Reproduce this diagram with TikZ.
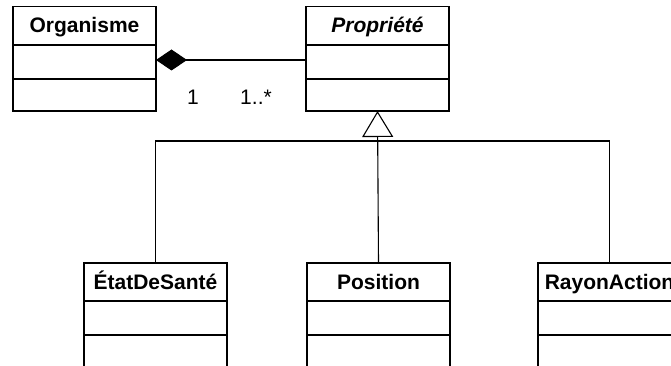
\documentclass[tikz,border=0pt]{standalone}
\usepackage{fontspec}
\setmainfont{Liberation Sans}
\usetikzlibrary{arrows.meta}

\tikzset{
  classhead/.style={draw, line width=1.5pt, minimum width=143pt, minimum height=38pt,
    inner sep=0pt, outer sep=0pt, text height=14pt, text depth=0pt,
    font=\fontsize{21}{25}\selectfont\bfseries},
  classpart/.style={draw, line width=1.5pt, minimum width=143pt,
    inner sep=0pt, outer sep=0pt},
  link/.style={line width=1.1pt},
  composition/.style={link, {Diamond[length=31pt, width=21pt]}-},
  generalization/.style={link, -{Triangle[open, length=26pt, width=31pt, fill=white]}},
  mult/.style={font=\fontsize{21}{25}\selectfont, inner sep=0pt}
}

\begin{document}
\begin{tikzpicture}[x=1pt, y=-1pt]
  \useasboundingbox (0,0) rectangle (671,366);
  \clip (0,0) rectangle (671,366);

  % Organisme
  \node[classhead] (org) at (84.5,25.5) {Organisme};
  \node[classpart, minimum height=34pt] (orgA) at (84.5,62) {};
  \node[classpart, minimum height=32pt] (orgB) at (84.5,95) {};

  % Propriete (abstract)
  \node[classhead, font=\fontsize{21}{25}\selectfont\bfseries\itshape] (prop) at (377.5,25.5) {Propriété};
  \node[classpart, minimum height=34pt] (propA) at (377.5,62) {};
  \node[classpart, minimum height=32pt] (propB) at (377.5,95) {};

  % Subclasses
  \node[classhead] (etat) at (155.5,282) {ÉtatDeSanté};
  \node[classpart, minimum height=34pt] (etatA) at (155.5,318) {};
  \node[classpart, minimum height=40pt] (etatB) at (155.5,355) {};

  \node[classhead] (pos) at (378.5,282) {Position};
  \node[classpart, minimum height=34pt] (posA) at (378.5,318) {};
  \node[classpart, minimum height=40pt] (posB) at (378.5,355) {};

  \node[classhead] (ray) at (609.5,282) {RayonAction};
  \node[classpart, minimum height=34pt] (rayA) at (609.5,318) {};
  \node[classpart, minimum height=40pt] (rayB) at (609.5,355) {};

  % Composition Organisme -- Propriete
  \draw[composition] ([yshift=2pt]orgA.east) -- ([yshift=2pt]propA.west);
  \node[mult] (m1) at (193,97) {1};
  \node[mult] (m2) at (256,97) {1..*};

  % Generalization tree
  \coordinate (bar) at (378,141);
  \draw[link] (etat.north) |- (bar) -| (ray.north);
  \draw[generalization] (pos.north) -- (propB.south);
\end{tikzpicture}
\end{document}
